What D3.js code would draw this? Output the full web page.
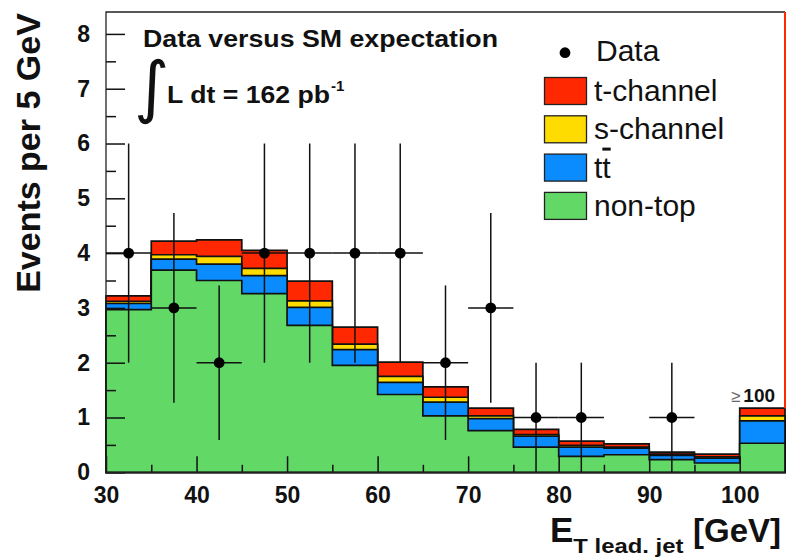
<!DOCTYPE html>
<html><head><meta charset="utf-8">
<script src="https://cdn.jsdelivr.net/npm/d3@7"></script>
<style>
body{margin:0;background:#fff}
svg{display:block}
text{font-family:"Liberation Sans",Arial,Helvetica,sans-serif}
</style>
</head><body>
<svg id="c" width="789" height="560"></svg>
<script>
// ---- data ----
const binLow   = [30,35,40,45,50,55,60,65,70,75,80,85,90,95,100];
const binWidth = 5;
const nonTop   = [2.97,3.69,3.50,3.26,2.68,1.95,1.42,1.03,0.76,0.46,0.29,0.32,0.23,0.17,0.53];
const ttbar    = [0.11,0.20,0.30,0.33,0.33,0.29,0.22,0.25,0.22,0.20,0.17,0.12,0.08,0.09,0.41];
const sChannel = [0.04,0.08,0.14,0.13,0.12,0.10,0.11,0.09,0.05,0.03,0.03,0.02,0.02,0.02,0.09];
const tChannel = [0.10,0.25,0.30,0.33,0.36,0.31,0.26,0.19,0.14,0.095,0.08,0.06,0.04,0.05,0.14];
const dataCounts = [4,3,2,4,4,4,4,2,3,1,1,0,1,0,0];
const dataErr    = [2,1.73,1.41,2,2,2,2,1.41,1.73,1,1,0,1,0,0];
const yTicks = [0,1,2,3,4,5,6,7,8];
const yMinor = [0.5,1.5,2.5,3.5,4.5,5.5,6.5,7.5];
const xTicks = [30,40,50,60,70,80,90,100];
const xMinor = [35,45,55,65,75,85,95];
const seriesKeys   = ["nonTop","ttbar","sChannel","tChannel"];
const seriesLabels = {tChannel:"t-channel", sChannel:"s-channel", ttbar:"tt", nonTop:"non-top"};
const seriesColors = {tChannel:"#ff2800", sChannel:"#ffdc00", ttbar:"#0a8cff", nonTop:"#62d866"};
const legendOrder  = ["tChannel","sChannel","ttbar","nonTop"];

// ---- layout ----
const svg = d3.select("#c");
const L = 106, R = 785, T = 12, B = 472.3;
const x = d3.scaleLinear().domain([30,105]).range([L,R]);
const y = d3.scaleLinear().domain([0,8.4]).range([B,T]);

const rows = binLow.map((b,i)=>({b, nonTop:nonTop[i], ttbar:ttbar[i], sChannel:sChannel[i], tChannel:tChannel[i]}));
const stacked = d3.stack().keys(seriesKeys)(rows);

const area = d3.area().curve(d3.curveStepAfter)
  .x(d=>x(d.x)).y0(y(0)).y1(d=>y(d.v));

// draw from top layer (total) down, ROOT style
stacked.slice().reverse().forEach(layer=>{
  const pts = layer.map((d,i)=>({x:binLow[i], v:d[1]}));
  pts.push({x:binLow[binLow.length-1]+binWidth, v:layer[layer.length-1][1]});
  svg.append("path").attr("d", area(pts))
    .attr("fill", seriesColors[layer.key])
    .attr("stroke","#111").attr("stroke-width",1.7).attr("stroke-linejoin","miter");
});

// ---- axes ----
const yAx = svg.append("g").attr("transform",`translate(${L},0)`);
yAx.call(d3.axisRight(y).tickValues(yTicks).tickSize(19).tickFormat(""));
yAx.append("g").call(d3.axisRight(y).tickValues(yMinor).tickSize(10).tickFormat(""));
const yLab = svg.append("g").attr("transform",`translate(${L},0)`)
  .call(d3.axisLeft(y).tickValues(yTicks).tickSize(0).tickPadding(16).tickFormat(d3.format("d")));
yLab.selectAll("text").attr("font-size",23).attr("font-weight","bold").attr("fill","#111")
  .style("font-family",'"Liberation Sans",Arial,sans-serif');

const xAx = svg.append("g").attr("transform",`translate(0,${B})`);
xAx.call(d3.axisBottom(x).tickValues(xTicks).tickSize(-16).tickPadding(14).tickFormat(d3.format("d")));
xAx.append("g").call(d3.axisBottom(x).tickValues(xMinor).tickSize(-7.5).tickFormat(""));
xAx.selectAll("text").attr("font-size",23).attr("font-weight","bold").attr("fill","#111")
  .style("font-family",'"Liberation Sans",Arial,sans-serif');

svg.selectAll(".domain").remove();
svg.selectAll(".tick line").attr("stroke","#111").attr("stroke-width",1.5);

// frame
svg.append("path").attr("d",`M${R},${T}H${L}V${B}H${R}`).attr("fill","none").attr("stroke","#222").attr("stroke-width",1.3);
const lastTotal = d3.sum([nonTop,ttbar,sChannel,tChannel], a=>a[a.length-1]);
svg.append("line").attr("x1",R).attr("x2",R).attr("y1",T).attr("y2",y(lastTotal)).attr("stroke","#ff2800").attr("stroke-width",2);

// ---- data points ----
const pts = binLow.map((b,i)=>({c:b+binWidth/2, b, n:dataCounts[i], e:dataErr[i]})).filter(d=>d.n>0);
const dg = svg.append("g");
dg.selectAll("line.h").data(pts).join("line").attr("class","h")
  .attr("x1",d=>x(d.b)).attr("x2",d=>x(d.b+binWidth)).attr("y1",d=>y(d.n)).attr("y2",d=>y(d.n))
  .attr("stroke","#111").attr("stroke-width",1.5);
dg.selectAll("line.v").data(pts).join("line").attr("class","v")
  .attr("x1",d=>x(d.c)).attr("x2",d=>x(d.c)).attr("y1",d=>y(d.n-d.e)).attr("y2",d=>y(d.n+d.e))
  .attr("stroke","#111").attr("stroke-width",1.5);
dg.selectAll("circle").data(pts).join("circle")
  .attr("cx",d=>x(d.c)).attr("cy",d=>y(d.n)).attr("r",5.4).attr("fill","#000");

// ---- texts ----
svg.append("text").attr("x",143).attr("y",46.5).attr("font-size",23).attr("font-weight","bold")
  .attr("textLength",355).attr("lengthAdjust","spacingAndGlyphs").attr("fill","#111")
  .text("Data versus SM expectation");
svg.append("text").attr("x",134).attr("y",110).attr("font-size",68).attr("fill","#111")
  .style("font-family","'DejaVu Sans',sans-serif").text("∫");
svg.append("text").attr("x",167).attr("y",103.3).attr("font-size",23).attr("font-weight","bold").attr("fill","#111")
  .attr("textLength",163).attr("lengthAdjust","spacingAndGlyphs").text("L dt = 162 pb");
svg.append("text").attr("x",331).attr("y",91).attr("font-size",15).attr("font-weight","bold").attr("fill","#111").text("-1");

// legend
const lg = svg.append("g");
lg.append("circle").attr("cx",565).attr("cy",52.7).attr("r",5.4).attr("fill","#000");
lg.append("text").attr("x",596).attr("y",61).attr("font-size",30).attr("fill","#111").text("Data");
legendOrder.forEach((k,i)=>{
  const cy = 91 + i*38.3;
  lg.append("rect").attr("x",544.5).attr("y",cy-13.5).attr("width",42).attr("height",27)
    .attr("fill",seriesColors[k]).attr("stroke","#222").attr("stroke-width",1.3);
  const t = lg.append("text").attr("x",594).attr("y",cy+10).attr("font-size",30).attr("fill","#111");
  if(k==="ttbar"){
    t.append("tspan").text("t");
    t.append("tspan").style("text-decoration","overline").text("t");
  } else t.text(seriesLabels[k]);
});

// overflow label
const ov = svg.append("text").attr("x",731).attr("y",401.5).attr("fill","#111");
ov.append("tspan").attr("font-size",17).attr("fill","#666").text("≥");
ov.append("tspan").attr("dx",3).attr("font-size",19).attr("font-weight","bold").text("100");

// axis titles
const xt = svg.append("text").attr("x",550).attr("y",541.5).attr("font-weight","bold").attr("fill","#111");
xt.append("tspan").attr("font-size",35).text("E");
xt.append("tspan").attr("font-size",20).attr("dy",11).attr("textLength",110).attr("lengthAdjust","spacingAndGlyphs").text("T lead. jet");
svg.append("text").attr("x",693).attr("y",541.5).attr("font-size",33).attr("font-weight","bold").attr("fill","#111").text("[GeV]");

svg.append("text").attr("transform","translate(40,153) rotate(-90)").attr("text-anchor","middle")
  .attr("font-size",34).attr("font-weight","bold").attr("fill","#111").text("Events per 5 GeV");
</script>
</body></html>
